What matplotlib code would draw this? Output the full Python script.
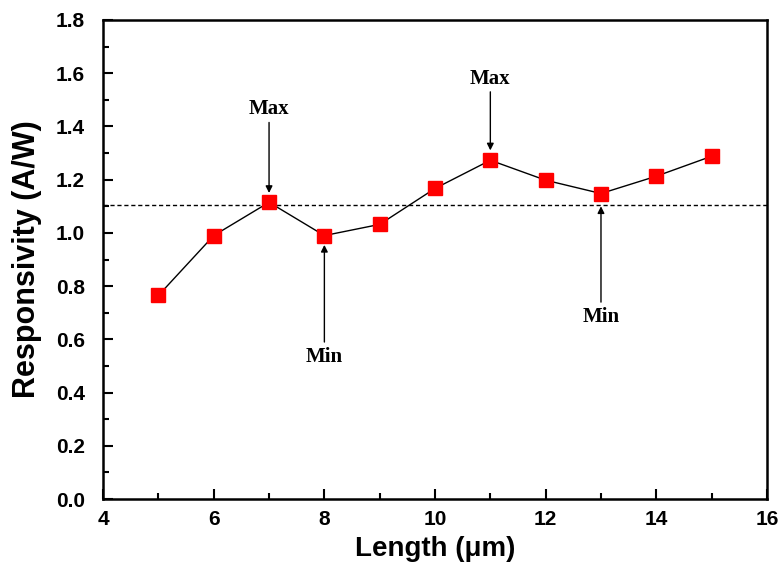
import matplotlib
matplotlib.use("Agg")
import matplotlib.pyplot as plt
from matplotlib.ticker import MultipleLocator

# datos
longitud = [5, 6, 7, 8, 9, 10, 11, 12, 13, 14, 15]
respuesta = [0.765, 0.99, 1.115, 0.99, 1.032, 1.167, 1.273, 1.198, 1.148, 1.213, 1.288]
nivel_medio = 1.106

# anotaciones: (texto, x, y_texto, y_punta)
etiquetas = ["Max", "Min", "Max", "Min"]
etiq_x = [7, 8, 11, 13]
etiq_y_texto = [1.465, 0.535, 1.58, 0.685]
etiq_y_punta = [1.15, 0.955, 1.31, 1.10]

fig = plt.figure(figsize=(7.81, 5.71), dpi=100)
ax = fig.add_axes([0.132, 0.126, 0.85, 0.839])

ax.axhline(nivel_medio, color="black", linestyle=(0, (3, 2)), linewidth=1)
ax.plot(longitud, respuesta, color="black", linewidth=1, zorder=2)
ax.plot(longitud, respuesta, linestyle="none", marker="s", markersize=9.5,
        color="#ff0000", markeredgecolor="#ff0000", zorder=3)

for texto, x, yt, yp in zip(etiquetas, etiq_x, etiq_y_texto, etiq_y_punta):
    arriba = yt > yp
    ax.annotate("", xy=(x, yp), xytext=(x, yt - 0.05 if arriba else yt + 0.055),
                arrowprops=dict(arrowstyle="-|>", color="black", lw=1,
                                mutation_scale=10, shrinkA=0, shrinkB=0))
    ax.text(x, yt, texto, ha="center", va="center", fontsize=15,
            fontweight="bold", family="Liberation Serif")

ax.set_xlim(4, 16)
ax.set_ylim(0, 1.8)
ax.xaxis.set_major_locator(MultipleLocator(2))
ax.xaxis.set_minor_locator(MultipleLocator(1))
ax.yaxis.set_major_locator(MultipleLocator(0.2))
ax.yaxis.set_minor_locator(MultipleLocator(0.1))
ax.yaxis.set_major_formatter(plt.FormatStrFormatter("%.1f"))

ax.tick_params(which="both", direction="in", width=1.5, top=False, right=False)
ax.tick_params(which="major", length=7, labelsize=15)
ax.tick_params(which="minor", length=4)
ax.tick_params(axis="x", which="major", pad=8)
ax.tick_params(axis="y", which="major", pad=13)
for lab in ax.get_xticklabels() + ax.get_yticklabels():
    lab.set_fontweight("bold")
    lab.set_family("Liberation Sans")
for s in ax.spines.values():
    s.set_linewidth(1.8)

ax.set_xlabel("Length (\u03bcm)", fontsize=20, fontweight="bold", family="Liberation Sans",
              labelpad=5)
ax.set_ylabel("Responsivity (A/W)", fontsize=22, fontweight="bold", family="Liberation Sans",
              labelpad=10)

plt.savefig("out.png", dpi=100)
plt.close()
